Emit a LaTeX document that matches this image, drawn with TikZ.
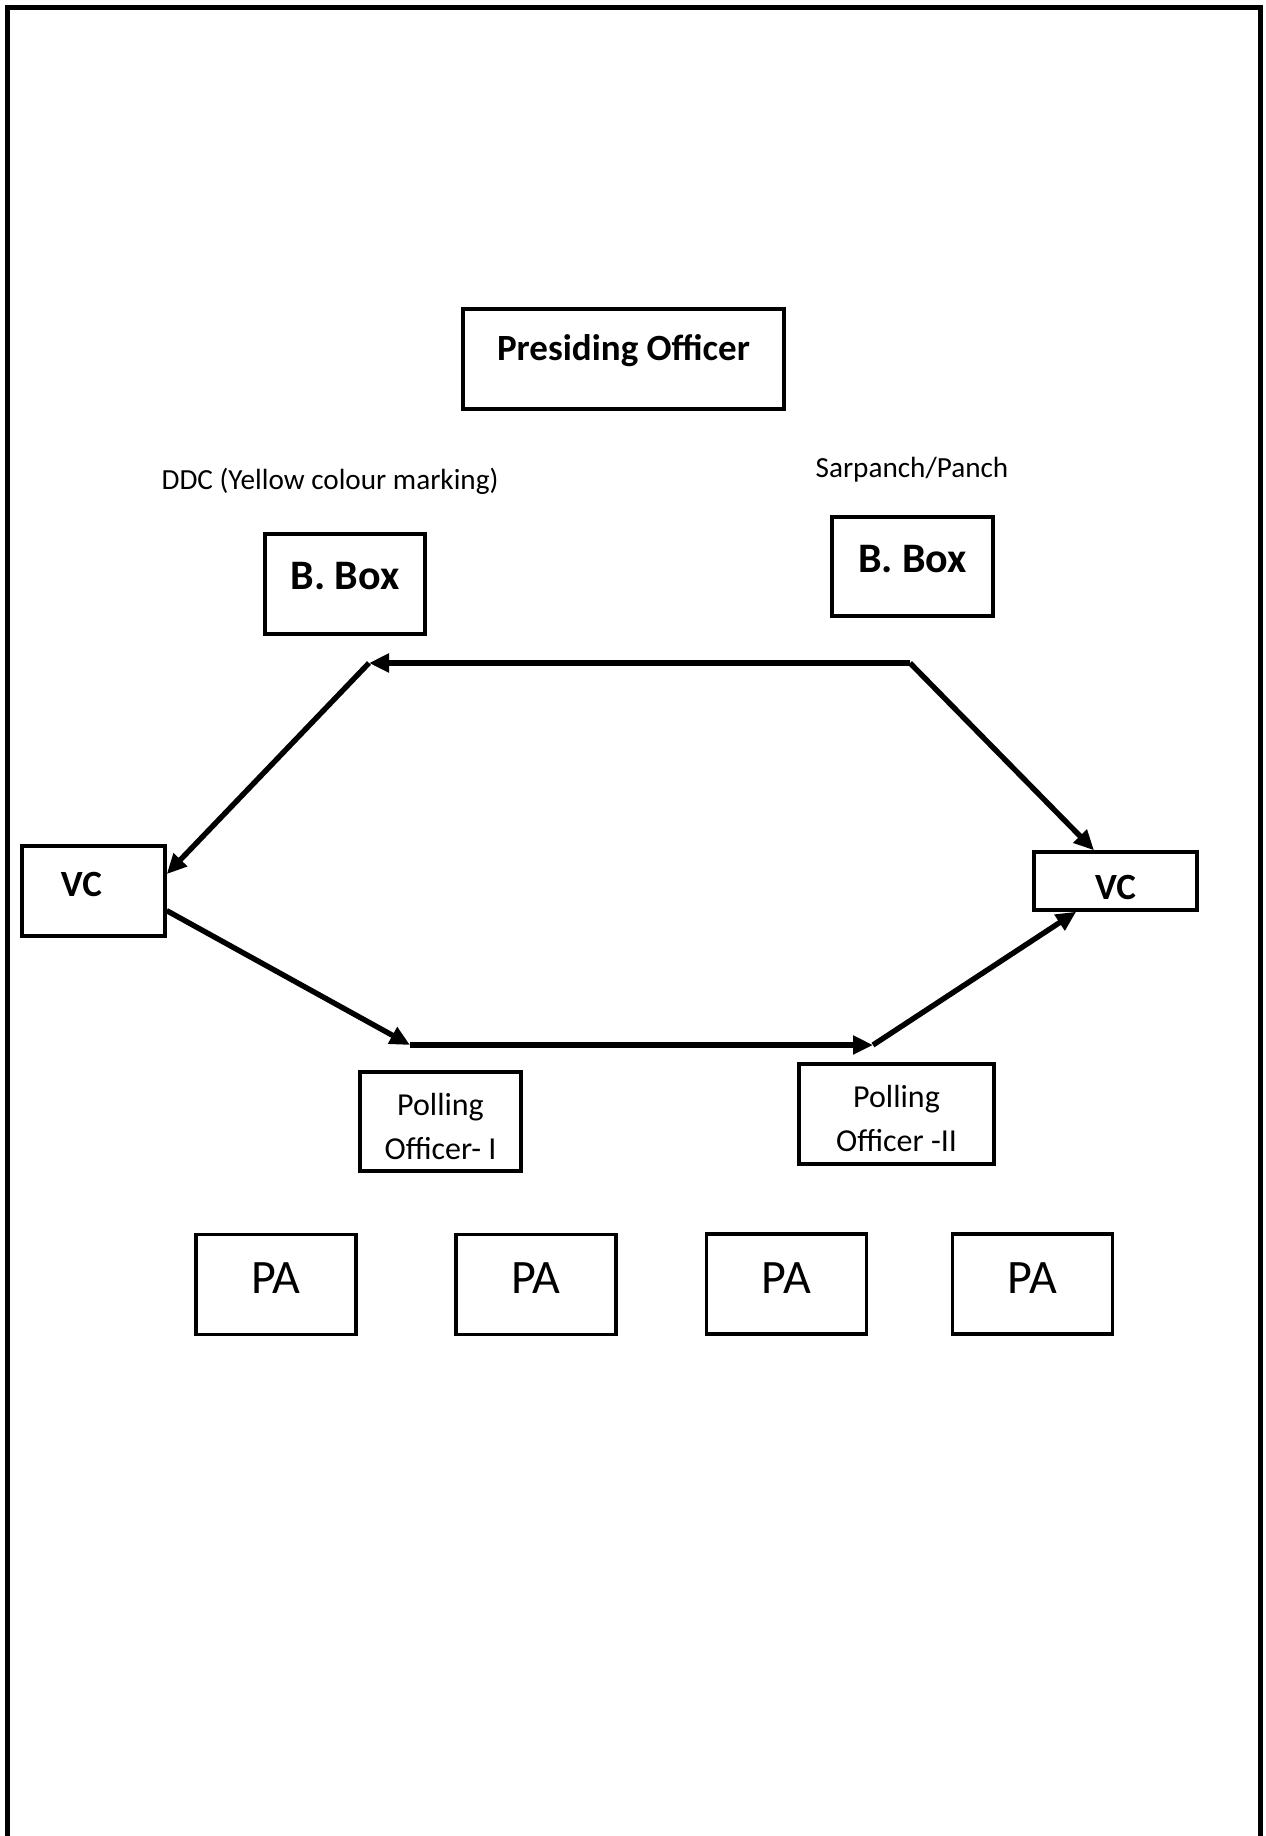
\documentclass[tikz,border=0pt]{standalone}
\usepackage{fontspec}
\setmainfont{Carlito}
\usetikzlibrary{arrows.meta}
\begin{document}
\begin{tikzpicture}[x=0.5pt, y=-0.5pt,
    >={Triangle[length=10pt,width=9pt]},
    box/.style={rectangle, draw, line width=1.7pt, inner sep=0pt, align=center},
    lbl/.style={inner sep=0pt, font=\fontsize{14.6}{17}\selectfont},
    flow/.style={->, line width=2.7pt}]

    \useasboundingbox (0,0) rectangle (1265,1836);
    % page frame, open at the foot
    \draw[line width=2.5pt] (7,1850) -- (7,7) -- (1260,7) -- (1260,1850);

    \node[box, minimum width=160.5pt, minimum height=50pt, text depth=12pt,
        font=\bfseries\fontsize{18.5}{22}\selectfont] (pres) at (623.5,359) {Presiding Officer};

    \node[lbl] (ddc) at (330,481) {DDC (Yellow colour marking)};
    \node[lbl] (sarp) at (912,470) {Sarpanch/Panch};

    \node[box, minimum width=80pt, minimum height=50pt, text depth=8pt,
        font=\bfseries\fontsize{21}{25}\selectfont] (bboxl) at (345,584) {B. Box};
    \node[box, minimum width=80.5pt, minimum height=49.5pt, text depth=8pt,
        font=\bfseries\fontsize{21}{25}\selectfont] (bboxr) at (912.5,566.5) {B. Box};

    \node[box, minimum width=71.5pt, minimum height=45pt, text depth=7pt,
        text width=32.5pt, align=left,
        font=\bfseries\fontsize{18.5}{22}\selectfont] (vcl) at (93.5,891) {VC};
    \node[box, minimum width=81.5pt, minimum height=29pt, text height=19pt,
        font=\bfseries\fontsize{18.5}{22}\selectfont] (vcr) at (1115.5,881) {VC};

    \node[box, minimum width=80.5pt, minimum height=49.5pt, text height=38pt,
        font=\fontsize{16}{22}\selectfont] (pol1) at (440.5,1121.5) {Polling\\Officer- I};
    \node[box, minimum width=97.5pt, minimum height=50pt, text height=38pt,
        font=\fontsize{16}{22}\selectfont] (pol2) at (896.5,1114) {Polling\\Officer -II};

    \node[box, minimum width=80pt, minimum height=50pt, text depth=6pt,
        font=\fontsize{24}{28}\selectfont] (pa1) at (276,1284.5) {PA};
    \node[box, minimum width=80pt, minimum height=50pt, text depth=6pt,
        font=\fontsize{24}{28}\selectfont] (pa2) at (536,1284.5) {PA};
    \node[box, minimum width=80pt, minimum height=50pt, text depth=6pt,
        font=\fontsize{24}{28}\selectfont] (pa3) at (786.5,1284) {PA};
    \node[box, minimum width=80pt, minimum height=50pt, text depth=6pt,
        font=\fontsize{24}{28}\selectfont] (pa4) at (1032.5,1284) {PA};

    % bends of the two routes
    \coordinate (topr) at (910,663);
    \coordinate (topl) at (369,663);
    \coordinate (botl) at (410,1045);
    \coordinate (botr) at (873,1045);

    \draw[flow] (topr) -- (topl);
    \draw[flow] (topl) -- (vcl.13);
    \draw[flow] (topr) -- (vcr.125);
    \draw[flow] (vcl.-15) -- (botl);
    \draw[flow] (botl) -- (botr);
    \draw[flow] (botr) -- (vcr.218);
\end{tikzpicture}
\end{document}
